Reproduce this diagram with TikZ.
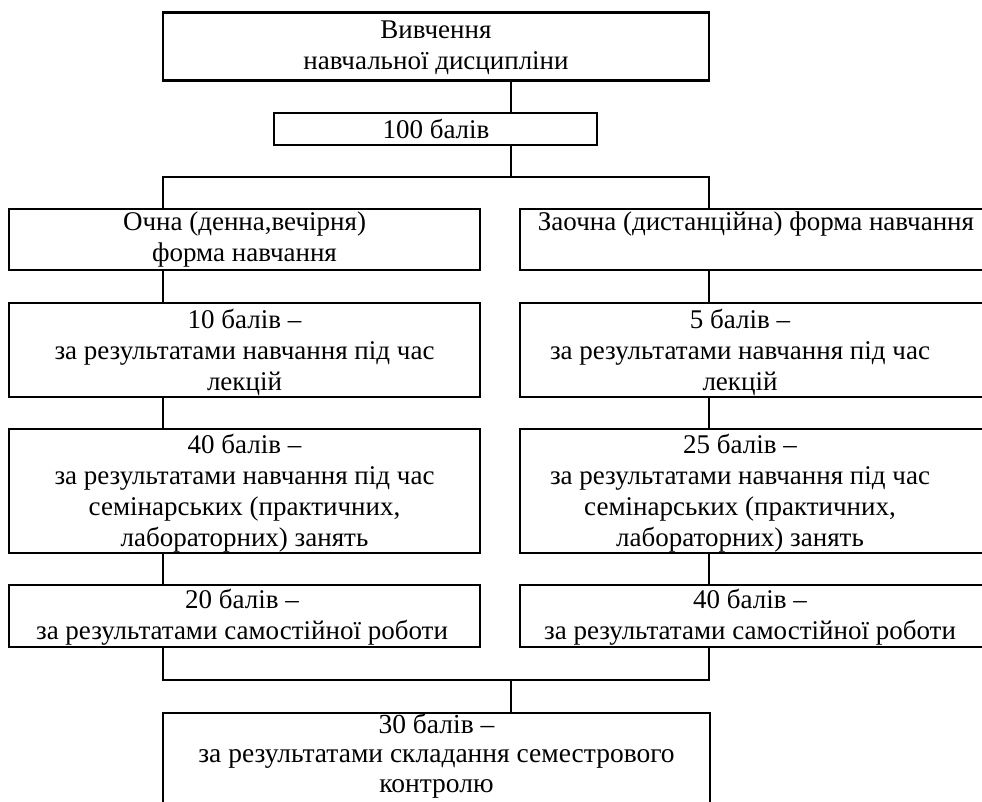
\documentclass[tikz,border=0pt]{standalone}
\usepackage{fontspec}
\setmainfont{Liberation Serif}
\begin{document}
\begin{tikzpicture}[x=1pt,y=-1pt,
  box/.style={draw, line width=2.6pt, rectangle, inner sep=0pt},
  txt/.style={align=center, inner sep=0pt, font=\fontsize{27}{31}\selectfont},
  bottxt/.style={txt, font=\fontsize{27.5}{29.5}\selectfont},
  conn/.style={line width=2.6pt}]
\useasboundingbox (0,0) rectangle (982,801);
\clip (0,0) rectangle (982,801);
% boxes
\node[box, minimum width=546, minimum height=68] (top) at (436,46.5) {};
\node[box, minimum width=323, minimum height=32] (b100) at (435.5,129) {};
\node[box, minimum width=471, minimum height=61] (o1) at (244.5,239.5) {};
\node[box, minimum width=490, minimum height=61] (z1) at (765,239.5) {};
\node[box, minimum width=471, minimum height=94] (o2) at (244.5,350) {};
\node[box, minimum width=490, minimum height=94] (z2) at (765,350) {};
\node[box, minimum width=471, minimum height=124] (o3) at (244.5,491) {};
\node[box, minimum width=490, minimum height=124] (z3) at (765,491) {};
\node[box, minimum width=471, minimum height=62] (o4) at (244.5,616) {};
\node[box, minimum width=490, minimum height=62] (z4) at (765,616) {};
\node[box, minimum width=547, minimum height=116] (bot) at (436.5,771) {};
% texts
\node[txt] (ttop) at (436,48) {Вивчення\\навчальної дисципліни};
\node[txt] (t100) at (436,129) {100 балів};
\node[txt] (to1) at (244.5,240) {Очна (денна,вечірня)\\форма навчання};
\node[txt] (tz1) at (756,224) {Заочна (дистанційна) форма навчання};
\node[txt] (to2) at (244.5,352) {10 балів –\\за результатами навчання під час\\лекцій};
\node[txt] (tz2) at (740,352) {5 балів –\\за результатами навчання під час\\лекцій};
\node[txt] (to3) at (244.5,493) {40 балів –\\за результатами навчання під час\\семінарських (практичних,\\лабораторних) занять};
\node[txt] (tz3) at (740,493) {25 балів –\\за результатами навчання під час\\семінарських (практичних,\\лабораторних) занять};
\node[txt] (to4) at (242,617) {20 балів –\\за результатами самостійної роботи};
\node[txt] (tz4) at (750,617) {40 балів –\\за результатами самостійної роботи};
\node[bottxt, anchor=south] (tbot) at (436.5,798.5) {30 балів –\\за результатами складання семестрового\\контролю};
% connector guides
\coordinate (lx) at (163,0);
\coordinate (rx) at (709,0);
\coordinate (sx) at (511,0);
\coordinate (hs) at (0,177);
\coordinate (hj) at (0,680);
% connectors
\draw[conn] (top.south -| sx) -- (b100.north -| sx);
\draw[conn] (b100.south -| sx) -- (sx |- hs);
\draw[conn] (o1.north -| lx) -- (lx |- hs) -- (rx |- hs) -- (z1.north -| rx);
\draw[conn] (o1.south -| lx) -- (o2.north -| lx);
\draw[conn] (o2.south -| lx) -- (o3.north -| lx);
\draw[conn] (o3.south -| lx) -- (o4.north -| lx);
\draw[conn] (z1.south -| rx) -- (z2.north -| rx);
\draw[conn] (z2.south -| rx) -- (z3.north -| rx);
\draw[conn] (z3.south -| rx) -- (z4.north -| rx);
\draw[conn] (o4.south -| lx) -- (lx |- hj) -- (rx |- hj) -- (z4.south -| rx);
\draw[conn] (sx |- hj) -- (bot.north -| sx);
\end{tikzpicture}
\end{document}
